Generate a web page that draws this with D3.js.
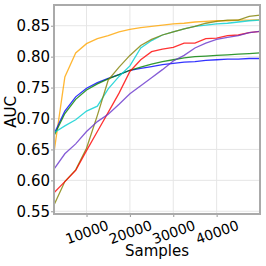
<!DOCTYPE html>
<html>
<head>
<meta charset="utf-8">
<script src="https://cdn.jsdelivr.net/npm/d3@7"></script>
<style>
  body { margin: 0; background: #fff; }
  text { font-family: 'DejaVu Sans', sans-serif; fill: #000; }
</style>
</head>
<body>
<div id="chart"></div>
<script>
const samples = [2500, 5000, 7500, 10000, 12500, 15000, 17500, 20000, 22500, 25000,
  27500, 30000, 32500, 35000, 37500, 40000, 42500, 45000, 47500, 50000];

const orange = [0.645, 0.767, 0.806, 0.821, 0.829, 0.834, 0.840, 0.844, 0.847, 0.849,
  0.851, 0.853, 0.854, 0.856, 0.857, 0.858, 0.858, 0.859, 0.859, 0.860];
const blue = [0.675, 0.712, 0.735, 0.749, 0.758, 0.765, 0.771, 0.778, 0.781, 0.784,
  0.787, 0.789, 0.791, 0.792, 0.794, 0.795, 0.796, 0.796, 0.797, 0.797];
const green = [0.672, 0.708, 0.731, 0.746, 0.756, 0.764, 0.771, 0.778, 0.783, 0.788,
  0.792, 0.795, 0.798, 0.800, 0.801, 0.802, 0.803, 0.804, 0.805, 0.806];
const cyan = [0.677, 0.688, 0.698, 0.712, 0.720, 0.748, 0.768, 0.785, 0.814, 0.826,
  0.835, 0.840, 0.845, 0.849, 0.851, 0.853, 0.854, 0.856, 0.858, 0.859];
const olive = [0.560, 0.598, 0.617, 0.652, 0.705, 0.762, 0.783, 0.802, 0.818, 0.828,
  0.835, 0.840, 0.845, 0.849, 0.854, 0.857, 0.859, 0.859, 0.865, 0.867];
const red = [0.580, 0.598, 0.616, 0.648, 0.679, 0.710, 0.741, 0.776, 0.795, 0.808,
  0.812, 0.815, 0.822, 0.822, 0.829, 0.830, 0.834, 0.835, 0.839, 0.841];
const purple = [0.618, 0.643, 0.659, 0.679, 0.695, 0.707, 0.723, 0.740, 0.753, 0.766,
  0.779, 0.793, 0.802, 0.814, 0.822, 0.828, 0.831, 0.834, 0.839, 0.841];

const xTicks = [10000, 20000, 30000, 40000];
const yTicks = [0.55, 0.60, 0.65, 0.70, 0.75, 0.80, 0.85];

const series = [
  { color: '#ffa500', values: orange },
  { color: '#0000ff', values: blue },
  { color: '#008000', values: green },
  { color: '#00ced1', values: cyan },
  { color: '#808000', values: olive },
  { color: '#ff0000', values: red },
  { color: '#6633cc', values: purple },
];

const width = 266;
const height = 266;
const margin = { top: 5, right: 6, bottom: 52, left: 54 };

const svg = d3.select('#chart').append('svg')
  .attr('width', width)
  .attr('height', height);

const x = d3.scaleLinear()
  .domain([2500, 50000])
  .range([margin.left, width - margin.right]);

const y = d3.scaleLinear()
  .domain([0.5456, 0.8835])
  .range([height - margin.bottom, margin.top]);

// grid
svg.append('g')
  .selectAll('line.gx')
  .data(xTicks)
  .enter()
  .append('line')
  .attr('x1', (d) => x(d))
  .attr('x2', (d) => x(d))
  .attr('y1', margin.top)
  .attr('y2', height - margin.bottom)
  .style('stroke', '#e6e6e6')
  .style('stroke-width', 1);

svg.append('g')
  .selectAll('line.gy')
  .data(yTicks)
  .enter()
  .append('line')
  .attr('x1', margin.left)
  .attr('x2', width - margin.right)
  .attr('y1', (d) => y(d))
  .attr('y2', (d) => y(d))
  .style('stroke', '#e6e6e6')
  .style('stroke-width', 1);

const line = d3.line()
  .x((d, i) => x(samples[i]))
  .y((d) => y(d));

svg.append('g')
  .selectAll('path')
  .data(series)
  .enter()
  .append('path')
  .attr('d', (d) => line(d.values))
  .style('fill', 'none')
  .style('stroke', (d) => d.color)
  .style('stroke-width', 1.3)
  .style('opacity', 0.8);

// axes
const xAxis = svg.append('g')
  .attr('transform', `translate(0,${height - margin.bottom})`)
  .call(d3.axisBottom(x).tickValues(xTicks).tickSize(3).tickFormat(d3.format('d')));

// rotate each label around its own centre
xAxis.selectAll('text')
  .style('font-size', '14px')
  .attr('text-anchor', 'middle')
  .attr('y', 0)
  .attr('dy', '0.36em')
  .attr('transform', 'translate(0,18) rotate(-20)');

const yAxis = svg.append('g')
  .attr('transform', `translate(${margin.left},0)`)
  .call(d3.axisLeft(y).tickValues(yTicks).tickSize(3).tickPadding(1).tickFormat(d3.format('.2f')));

yAxis.selectAll('text').style('font-size', '15px');

[xAxis, yAxis].forEach((a) => {
  a.select('.domain').remove();
  a.selectAll('.tick line').style('stroke', '#999');
});

// frame
svg.append('rect')
  .attr('x', margin.left)
  .attr('y', margin.top)
  .attr('width', width - margin.left - margin.right)
  .attr('height', height - margin.top - margin.bottom)
  .style('fill', 'none')
  .style('stroke', '#aaa')
  .style('stroke-width', 2);

svg.append('text')
  .attr('x', 157)
  .attr('y', 256)
  .attr('text-anchor', 'middle')
  .style('font-size', '15px')
  .text('Samples');

svg.append('text')
  .attr('transform', 'translate(16,112) rotate(-90)')
  .attr('text-anchor', 'middle')
  .style('font-size', '15px')
  .text('AUC');
</script>
</body>
</html>
